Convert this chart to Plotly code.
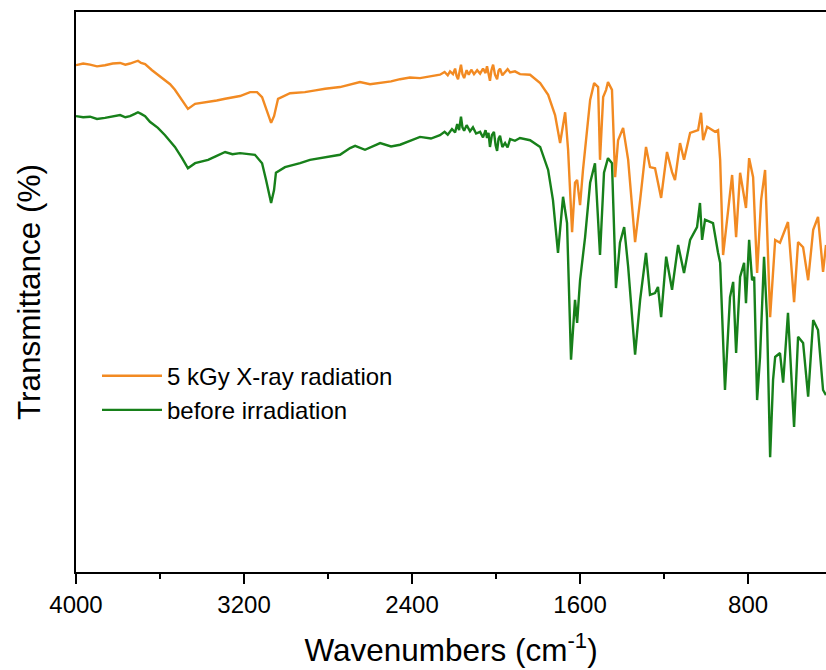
import plotly.graph_objects as go

# FTIR spectra: wavenumber (cm^-1) and transmittance (arbitrary %, offset traces)
wn_xray = [4000, 3966, 3933, 3900, 3862, 3825, 3790, 3765, 3743, 3720, 3705, 3690, 3671, 3638,
           3590, 3552, 3529, 3495, 3467, 3433, 3371, 3330, 3290, 3255, 3219, 3171, 3138, 3114,
           3095, 3071, 3057, 3038, 2981, 2910, 2860, 2814, 2743, 2695, 2648, 2600, 2552, 2500,
           2457, 2410, 2362, 2310, 2267, 2245, 2230, 2219, 2205, 2195, 2188, 2181, 2174, 2167,
           2160, 2152, 2140, 2130, 2118, 2105, 2090, 2076, 2062, 2050, 2043, 2036, 2029, 2022,
           2014, 2005, 1995, 1988, 1981, 1970, 1957, 1945, 1933, 1910, 1886, 1838, 1790, 1752,
           1719, 1695, 1671, 1657, 1638, 1624, 1614, 1600, 1586, 1552, 1533, 1514, 1505, 1490,
           1476, 1467, 1448, 1433, 1419, 1395, 1371, 1338, 1314, 1286, 1267, 1243, 1214, 1186,
           1162, 1148, 1124, 1105, 1076, 1038, 1024, 1014, 995, 957, 943, 933, 919, 895, 876,
           857, 838, 810, 795, 776, 757, 738, 719, 695, 671, 648, 610, 581, 562, 538, 514, 490,
           467, 443, 429]
t_xray = [90.5, 90.8, 90.6, 90.3, 90.5, 90.8, 90.9, 90.6, 90.8, 91.1, 91.3, 90.9, 90.7, 89.6,
          88.2, 87.1, 86.1, 84.3, 82.7, 83.6, 83.9, 84.2, 84.5, 84.8, 85.0, 85.7, 85.7, 84.8,
          82.9, 80.2, 81.4, 84.5, 85.5, 85.7, 86.0, 86.3, 86.6, 87.1, 87.5, 87.1, 87.3, 87.6,
          88.0, 88.3, 88.2, 88.6, 88.8, 89.3, 88.7, 89.4, 88.9, 89.9, 88.6, 88.0, 89.5, 90.6,
          88.9, 88.2, 89.6, 88.8, 89.7, 88.9, 89.6, 89.0, 89.9, 89.1, 90.3, 88.9, 87.7, 89.6,
          90.6, 88.8, 88.0, 89.5, 89.9, 88.7, 89.2, 89.8, 89.2, 89.4, 88.9, 88.8, 87.3, 85.2,
          81.6, 76.6, 82.1, 75.4, 60.7, 69.5, 70.0, 65.5, 71.8, 84.3, 87.3, 86.6, 73.6, 84.8,
          86.1, 87.5, 86.1, 70.5, 77.1, 79.3, 73.6, 58.9, 66.4, 75.9, 72.3, 72.1, 66.8, 75.0,
          71.4, 70.0, 76.6, 73.6, 78.4, 78.9, 82.0, 77.1, 79.5, 78.6, 78.9, 73.6, 56.6, 64.1,
          70.9, 59.8, 71.3, 65.0, 73.9, 70.5, 53.4, 66.4, 71.8, 45.5, 59.3, 58.8, 62.5, 48.2,
          58.9, 58.0, 52.1, 61.1, 63.4, 53.6, 58.4]

wn_before = [4000, 3966, 3933, 3900, 3862, 3825, 3790, 3765, 3743, 3720, 3705, 3690, 3671, 3648,
             3610, 3576, 3529, 3495, 3467, 3433, 3371, 3330, 3290, 3255, 3219, 3148, 3114, 3095,
             3071, 3057, 3048, 3005, 2933, 2886, 2814, 2743, 2695, 2671, 2624, 2552, 2500, 2457,
             2410, 2362, 2310, 2267, 2245, 2230, 2210, 2195, 2185, 2176, 2167, 2160, 2152, 2140,
             2124, 2110, 2095, 2076, 2062, 2050, 2043, 2036, 2029, 2020, 2010, 2002, 1995, 1988,
             1981, 1970, 1957, 1945, 1933, 1910, 1886, 1838, 1790, 1752, 1729, 1705, 1681, 1662,
             1643, 1624, 1614, 1600, 1576, 1552, 1529, 1505, 1486, 1467, 1448, 1429, 1410, 1390,
             1371, 1338, 1314, 1286, 1267, 1243, 1229, 1214, 1190, 1171, 1162, 1133, 1105, 1076,
             1043, 1029, 1019, 1005, 967, 943, 933, 910, 886, 871, 857, 838, 819, 810, 795, 781,
             771, 757, 743, 724, 710, 695, 681, 671, 648, 633, 610, 581, 562, 538, 514, 490, 467,
             443, 429]
t_before = [81.4, 81.2, 81.3, 80.9, 81.1, 81.4, 81.6, 81.2, 81.4, 81.8, 82.1, 81.8, 81.4, 80.4,
            79.3, 78.0, 75.9, 73.9, 72.1, 73.0, 73.6, 74.3, 75.0, 74.6, 74.8, 74.5, 73.0, 70.0,
            65.9, 68.2, 71.3, 72.3, 73.0, 73.6, 74.1, 74.5, 75.7, 76.1, 75.4, 76.6, 76.0, 76.3,
            77.0, 77.7, 77.4, 78.0, 78.6, 78.1, 79.1, 78.5, 80.0, 78.9, 81.3, 79.4, 78.8, 79.8,
            78.7, 79.4, 78.3, 78.6, 77.6, 78.9, 77.5, 78.4, 75.9, 78.0, 78.6, 76.2, 75.2, 77.4,
            77.9, 75.9, 76.6, 75.8, 77.3, 77.0, 77.5, 77.1, 75.9, 71.8, 66.4, 57.0, 67.0, 62.3,
            37.9, 48.6, 44.5, 52.1, 59.8, 69.5, 73.0, 56.6, 71.3, 73.9, 73.0, 50.7, 58.8, 61.6,
            54.5, 38.8, 48.6, 57.0, 49.5, 49.8, 50.9, 45.5, 56.3, 52.1, 50.4, 58.4, 53.4, 59.3,
            61.6, 65.9, 59.3, 62.9, 62.3, 57.0, 55.2, 32.5, 49.1, 51.8, 39.1, 52.7, 55.2, 48.0,
            59.3, 52.1, 52.7, 30.7, 38.4, 56.3, 45.5, 20.5, 34.3, 38.4, 39.1, 33.8, 46.3, 25.9,
            42.0, 40.9, 31.3, 45.0, 43.2, 32.5, 31.6]

x_ticks = [4000, 3200, 2400, 1600, 800]

ORANGE = "#F28A22"
GREEN = "#17801A"
FONT = "Liberation Sans, Arial, sans-serif"

fig = go.Figure()
fig.add_trace(go.Scatter(x=wn_xray, y=t_xray, mode="lines", name="5 kGy X-ray radiation",
                         line=dict(color=ORANGE, width=2.4)))
fig.add_trace(go.Scatter(x=wn_before, y=t_before, mode="lines", name="before irradiation",
                         line=dict(color=GREEN, width=2.4)))

fig.update_layout(
    width=826, height=670,
    margin=dict(l=76, r=0, t=12, b=98),
    paper_bgcolor="white", plot_bgcolor="white",
    font=dict(family=FONT, color="black"),
    showlegend=True,
    legend=dict(x=0.028, y=0.39, xanchor="left", yanchor="top",
                bgcolor="rgba(0,0,0,0)", font=dict(size=24, family=FONT),
                itemwidth=60, tracegroupgap=0),
)
fig.update_xaxes(
    range=[4000, 429], autorange=False,
    tickvals=x_ticks, ticktext=[str(v) for v in x_ticks],
    ticks="outside", ticklen=10, tickwidth=1.5, tickcolor="black",
    minor=dict(dtick=400, tick0=0, ticks="outside", ticklen=5, tickwidth=1.5, tickcolor="black"),
    showline=True, linecolor="black", linewidth=2, mirror=True,
    showgrid=False, zeroline=False,
    tickfont=dict(size=24, family=FONT),
    title=dict(text="Wavenumbers (cm<sup>-1</sup>)", font=dict(size=31.5, family=FONT), standoff=22),
)
fig.update_yaxes(
    range=[0, 100], autorange=False,
    showticklabels=False, ticks="",
    showline=True, linecolor="black", linewidth=2, mirror=False,
    showgrid=False, zeroline=False,
    title=dict(text="Transmittance (%)", font=dict(size=31.5, family=FONT), standoff=24),
)

fig.write_html("out.html")
